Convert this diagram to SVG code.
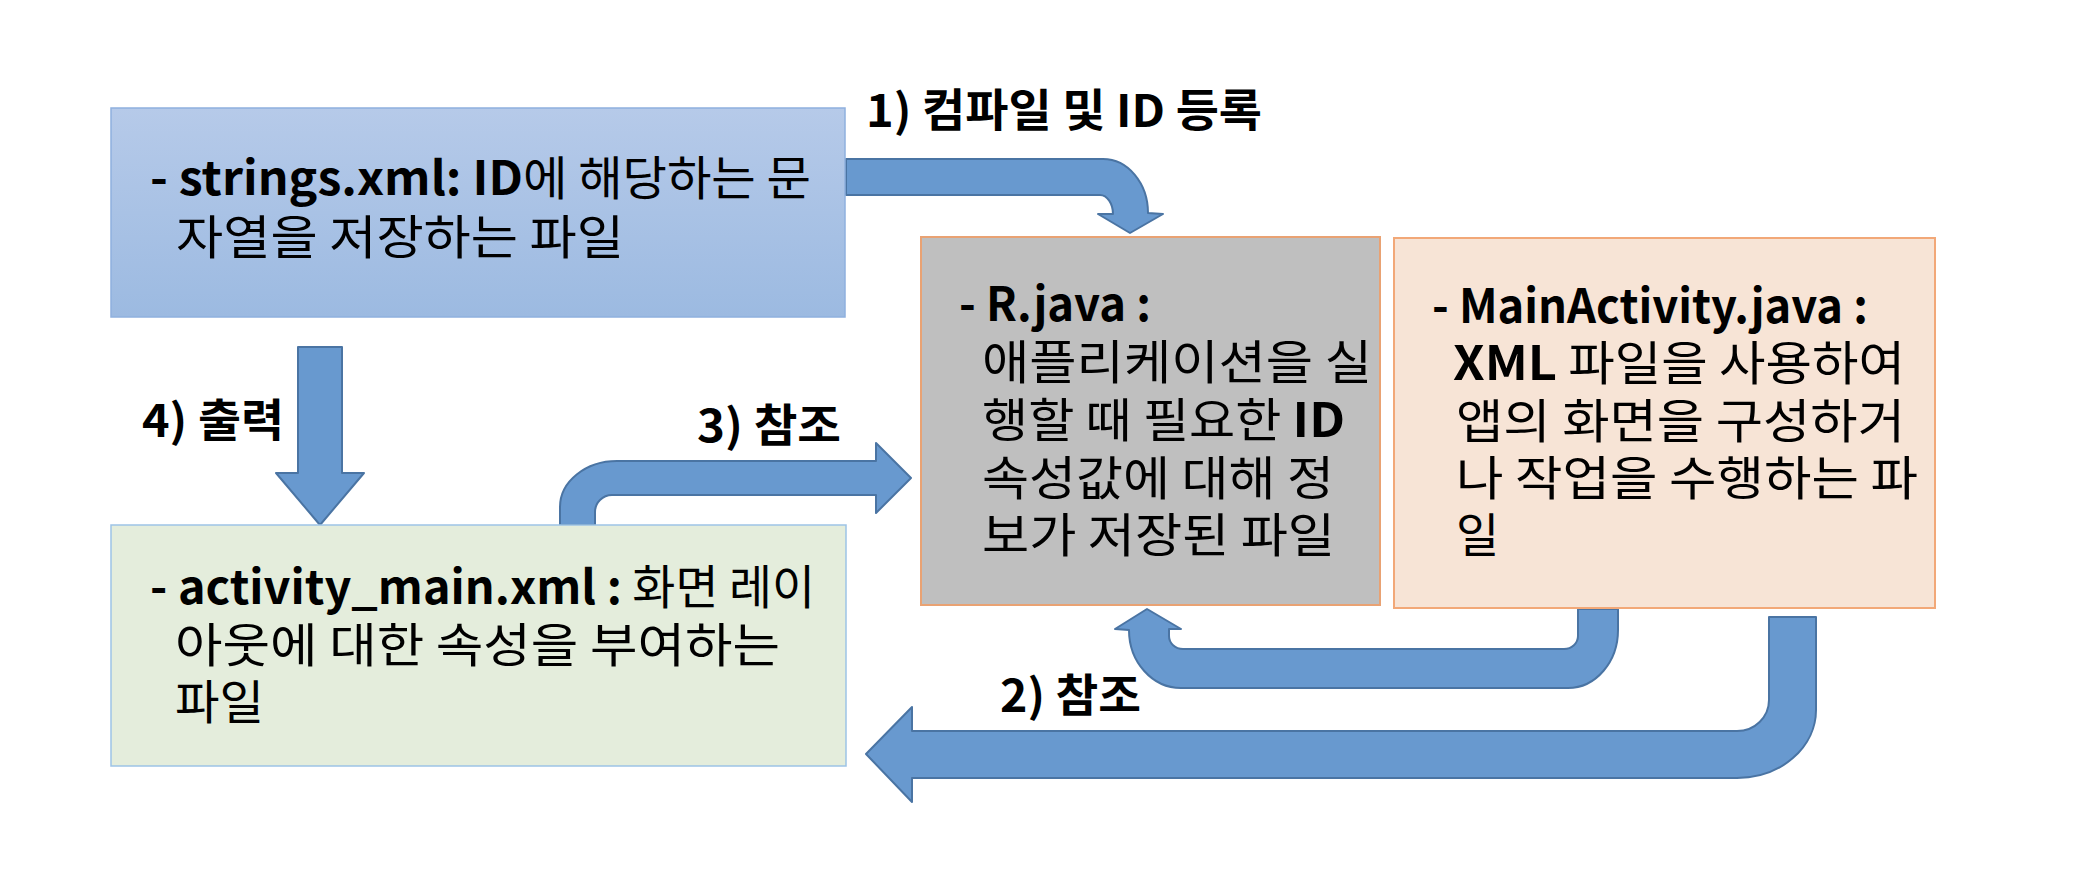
<svg xmlns="http://www.w3.org/2000/svg" width="2090" height="886" viewBox="0 0 2090 886">
  <defs>
    <linearGradient id="gBlue" x1="0" y1="0" x2="0" y2="1">
      <stop offset="0" stop-color="#B6CAE9"/>
      <stop offset="1" stop-color="#9CBAE1"/>
    </linearGradient>
    <style>
      text { font-family: "Noto Sans CJK KR", "Noto Sans", sans-serif; fill: #000; }
      .box { font-size: 47px; font-weight: 400; }
      .b { font-weight: 700; }
      .lbl { font-size: 45px; font-weight: 700; }
      .arrow { fill: #6899CF; stroke: #4A74A3; stroke-width: 2; stroke-linejoin: round; }
    </style>
  </defs>
  <rect width="2090" height="886" fill="#FFFFFF"/>

  <g id="connectors">
    <path id="arrow1" class="arrow" d="M 846,159 L 1103,159 A 45,54 0 0 1 1148,213 L 1163,214 L 1130,233 L 1098,214 L 1113,214 A 13,19 0 0 0 1100,195 L 846,195 Z"/>
    <path id="arrow4" class="arrow" d="M 298,347 L 342,347 L 342,473 L 364,473 L 320,525 L 276,473 L 298,473 Z"/>
    <path id="arrow3" class="arrow" d="M 560,525 L 560,507 A 57,46 0 0 1 617,461 L 876,461 L 876,443 L 911,478 L 876,513 L 876,495 L 612,495 A 17,17 0 0 0 595,512 L 595,525 Z"/>
    <path id="arrow2a" class="arrow" d="M 1618,609 L 1618,630 A 50,58 0 0 1 1568,688 L 1181,688 A 52,58 0 0 1 1129,630 L 1115,629 L 1147,609 L 1181,629 L 1169,629 L 1169,636 A 14,13 0 0 0 1183,649 L 1564,649 A 14,13 0 0 0 1578,636 L 1578,609 Z"/>
    <path id="arrow2b" class="arrow" d="M 1816,617 L 1816,710 A 79,68 0 0 1 1737,778 L 912,778 L 912,802 L 866,754 L 912,707 L 912,731 L 1737,731 A 32,31 0 0 0 1769,700 L 1769,617 Z"/>
    <text class="lbl" x="866" y="127" textLength="396" lengthAdjust="spacingAndGlyphs">1) 컴파일 및 ID 등록</text>
    <text class="lbl" x="142" y="437" textLength="142" lengthAdjust="spacingAndGlyphs">4) 출력</text>
    <text class="lbl" x="697" y="442" textLength="144" lengthAdjust="spacingAndGlyphs">3) 참조</text>
    <text class="lbl" x="1000" y="712" textLength="141" lengthAdjust="spacingAndGlyphs">2) 참조</text>
  </g>

  <g id="strings">
    <rect x="111" y="108" width="734" height="209" fill="url(#gBlue)" stroke="#8FB0DE" stroke-width="1.5"/>
    <text class="box"><tspan x="150" y="195" textLength="661" lengthAdjust="spacingAndGlyphs"><tspan class="b">- strings.xml: ID</tspan>에 해당하는 문</tspan><tspan x="176" y="254" textLength="448" lengthAdjust="spacingAndGlyphs">자열을 저장하는 파일</tspan></text>
  </g>

  <g id="rjava">
    <rect x="921" y="237" width="459" height="368" fill="#BFBFBF" stroke="#E9A273" stroke-width="2"/>
    <text class="box"><tspan class="b" x="959" y="321" textLength="192" lengthAdjust="spacingAndGlyphs">- R.java :</tspan><tspan x="982" y="379" textLength="390" lengthAdjust="spacingAndGlyphs">애플리케이션을 실</tspan><tspan x="982" y="437" textLength="363" lengthAdjust="spacingAndGlyphs">행할 때 필요한 <tspan class="b">ID</tspan></tspan><tspan x="982" y="495" textLength="352" lengthAdjust="spacingAndGlyphs">속성값에 대해 정</tspan><tspan x="982" y="552" textLength="353" lengthAdjust="spacingAndGlyphs">보가 저장된 파일</tspan></text>
  </g>

  <g id="mainactivity">
    <rect x="1394" y="238" width="541" height="370" fill="#F7E4D6" stroke="#F2A878" stroke-width="2"/>
    <text class="box"><tspan class="b" x="1432" y="323" textLength="436" lengthAdjust="spacingAndGlyphs">- MainActivity.java :</tspan><tspan x="1453" y="380" textLength="452" lengthAdjust="spacingAndGlyphs"><tspan class="b">XML</tspan> 파일을 사용하여</tspan><tspan x="1456" y="438" textLength="449" lengthAdjust="spacingAndGlyphs">앱의 화면을 구성하거</tspan><tspan x="1456" y="495" textLength="462" lengthAdjust="spacingAndGlyphs">나 작업을 수행하는 파</tspan><tspan x="1456" y="552">일</tspan></text>
  </g>

  <g id="activitymain">
    <rect x="111" y="525" width="735" height="241" fill="#E4EDDC" stroke="#9DC3E6" stroke-width="1.5"/>
    <text class="box"><tspan x="150" y="604" textLength="665" lengthAdjust="spacingAndGlyphs"><tspan class="b">- activity_main.xml :</tspan> 화면 레이</tspan><tspan x="175" y="662" textLength="605" lengthAdjust="spacingAndGlyphs">아웃에 대한 속성을 부여하는</tspan><tspan x="175" y="719" textLength="89" lengthAdjust="spacingAndGlyphs">파일</tspan></text>
  </g>
</svg>
